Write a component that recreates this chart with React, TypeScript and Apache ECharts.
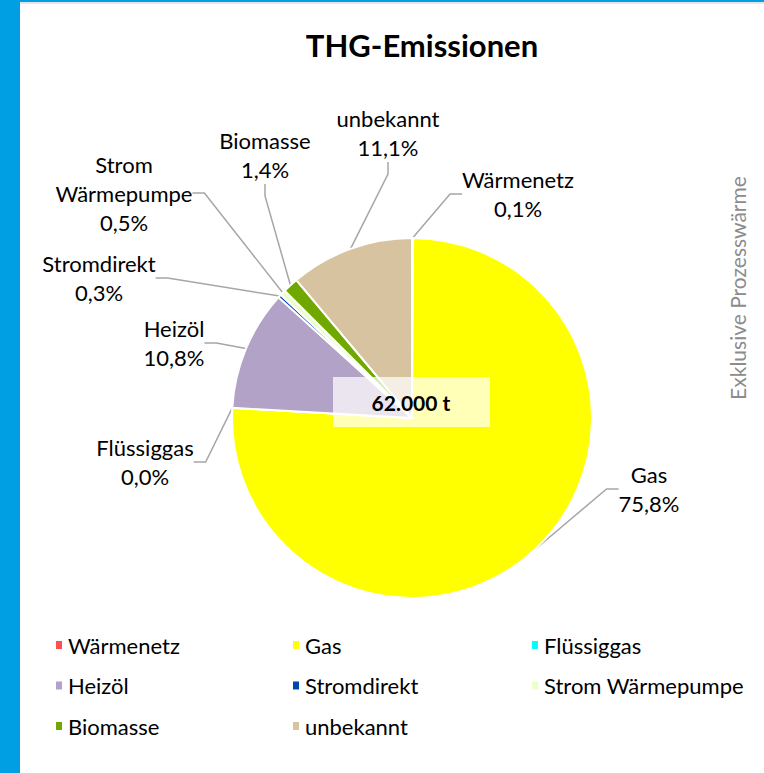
import React, { useEffect, useRef } from "react";
import * as echarts from "echarts";

const categories = ["Wärmenetz", "Gas", "Flüssiggas", "Heizöl", "Stromdirekt", "Strom Wärmepumpe", "Biomasse", "unbekannt"];
const shares = [0.1, 75.8, 0.0, 10.8, 0.3, 0.5, 1.4, 11.1];
const colors = ["#FF5050", "#FFFF00", "#00FFFF", "#B3A2C7", "#0047AB", "#EBFFC8", "#70A800", "#D7C3A0"];
const totalLabel = "62.000 t";
const titleText = "THG-Emissionen";
const sideNote = "Exklusive Prozesswärme";
const legendCols = [
  ["Wärmenetz", "Heizöl", "Biomasse"],
  ["Gas", "Stromdirekt", "unbekannt"],
  ["Flüssiggas", "Strom Wärmepumpe"],
];

// label anchor positions (layout only)
const labelPos: [number, number][] = [
  [518, 194],
  [649, 489],
  [145, 462],
  [174, 343],
  [99, 278],
  [124, 193],
  [265, 155],
  [388, 133],
];

const FONT = "Lato, 'Open Sans', sans-serif";

export default function App() {
  const ref = useRef<HTMLDivElement>(null);
  useEffect(() => {
    if (!ref.current) return;
    const chart = echarts.init(ref.current, null, { renderer: "svg" });
    const data = categories.map((c, i) => ({ name: c, value: shares[i], itemStyle: { color: colors[i] } }));
    chart.setOption({
      animation: false,
      backgroundColor: "#ffffff",
      textStyle: { fontFamily: FONT },
      legend: legendCols.map((col, i) => ({
        data: col,
        orient: "vertical",
        left: [54, 291, 530][i],
        top: 634,
        padding: 0,
        itemGap: 18.5,
        itemWidth: 8,
        itemHeight: 10,
        icon: "rect",
        selectedMode: false,
        textStyle: { fontFamily: FONT, fontSize: 22, color: "#000", lineHeight: 22 },
      })),
      series: [
        {
          type: "pie",
          center: [412, 418],
          radius: [0, 180],
          startAngle: 90,
          clockwise: true,
          data,
          itemStyle: { borderColor: "#ffffff", borderWidth: 2 },
          label: {
            show: true,
            position: "outside",
            fontFamily: FONT,
            fontSize: 22,
            lineHeight: 29,
            color: "#000",
            align: "center",
            formatter: (p: any) =>
              `${p.name.replace(" ", "\n")}\n${p.value.toFixed(1).replace(".", ",")}%`,
          },
          labelLine: { show: true, length: 10, length2: 12, lineStyle: { color: "#a6a6a6", width: 1.5 } },
          labelLayout: (params: any) => {
            const p = labelPos[params.dataIndex];
            return { x: p[0], y: p[1], align: "center", verticalAlign: "middle" };
          },
          emphasis: { disabled: true },
        },
      ],
      graphic: [
        { type: "rect", left: 0, top: 0, shape: { width: 20, height: 773 }, style: { fill: "#009FE3" } },
        { type: "rect", left: 20, top: 0, shape: { width: 744, height: 2 }, style: { fill: "#009FE3" } },
        { type: "rect", left: 20, top: 2, shape: { width: 744, height: 2 }, style: { fill: "#e6e6e6" } },
        {
          type: "text",
          x: 422,
          y: 45,
          style: { text: titleText, fill: "#000", font: `bold 31px ${FONT}`, textAlign: "center", textVerticalAlign: "middle" },
        },
        {
          type: "rect",
          x: 333,
          y: 377,
          z: 100,
          shape: { width: 157, height: 50 },
          style: { fill: "rgba(255,255,255,0.72)" },
        },
        {
          type: "text",
          x: 411,
          y: 402,
          z: 101,
          style: { text: totalLabel, fill: "#000", font: `bold 21px ${FONT}`, textAlign: "center", textVerticalAlign: "middle" },
        },
        {
          type: "text",
          x: 737,
          y: 288,
          rotation: Math.PI / 2,
          style: { text: sideNote, fill: "#8c8c8c", font: `21px ${FONT}`, textAlign: "center", textVerticalAlign: "middle" },
        },
      ],
    });
    return () => chart.dispose();
  }, []);
  return <div ref={ref} style={{ position: "absolute", left: 0, top: 0, width: 764, height: 773 }} />;
}
